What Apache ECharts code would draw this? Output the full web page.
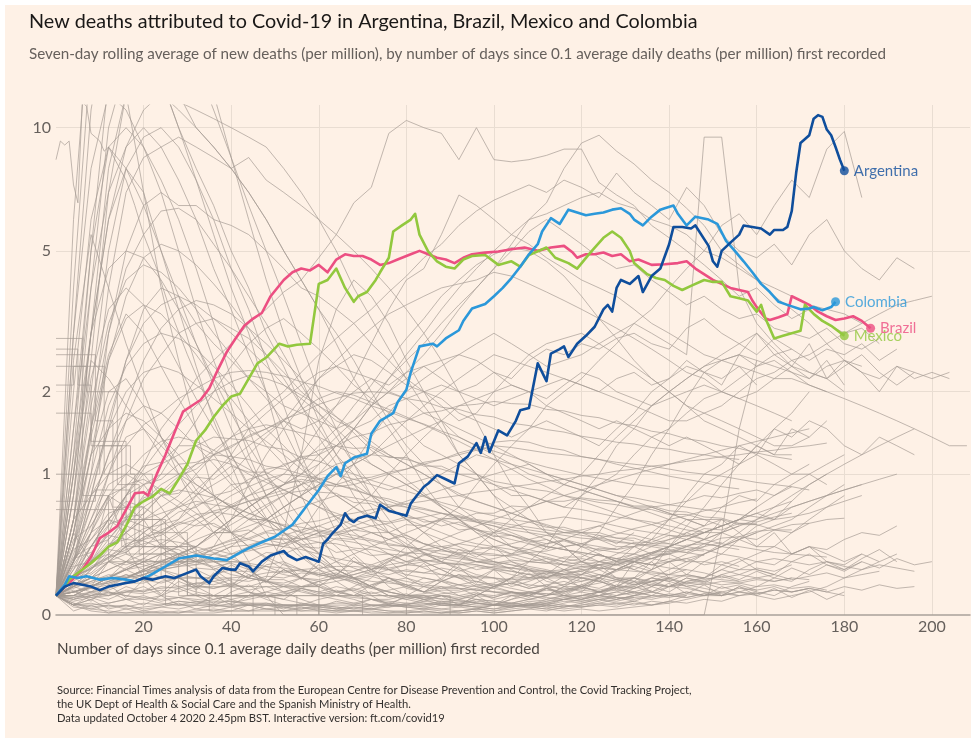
<!DOCTYPE html>
<html><head><meta charset="utf-8">
<script src="https://cdn.jsdelivr.net/npm/echarts@6/dist/echarts.min.js"></script>
<style>
html,body{margin:0;padding:0;background:#fff;width:971px;height:740px;overflow:hidden}
#bg{position:absolute;left:5px;top:5px;width:966px;height:733px;background:#FEF1E6}
#chart{position:absolute;left:0;top:0;width:971px;height:740px}
</style></head>
<body><div id="bg"></div><div id="chart"></div>
<script>
// ---------- DATA ----------
const yTickLabels = [0, 1, 2, 5, 10];
const xTickStep = 20;
const grayStep = 4; // gray country lines sampled every 4 days from day 0

const argentina = [[0,0.1],[2,0.15],[4,0.17],[6,0.16],[8,0.15],[10,0.13],[12,0.15],[14,0.16],[16,0.17],[18,0.18],[20,0.2],[22,0.19],[25,0.21],[27,0.2],[29,0.22],[31,0.24],[32,0.25],[33,0.21],[35,0.17],[36,0.21],[38,0.26],[40,0.25],[41,0.25],[42,0.29],[44,0.27],[45,0.24],[47,0.3],[49,0.34],[52,0.37],[53,0.34],[55,0.31],[57,0.33],[59,0.31],[60,0.3],[61,0.42],[62,0.45],[63,0.49],[65,0.56],[66,0.65],[67,0.6],[68,0.58],[69,0.61],[71,0.63],[72,0.62],[73,0.61],[74,0.72],[76,0.67],[78,0.65],[80,0.63],[81,0.73],[82,0.78],[84,0.88],[85,0.91],[87,0.99],[89,0.95],[91,0.91],[92,1.11],[94,1.18],[96,1.33],[97,1.22],[98,1.4],[99,1.23],[101,1.48],[103,1.42],[105,1.6],[106,1.74],[108,1.77],[110,2.45],[112,2.16],[113,2.62],[115,2.7],[116,2.75],[117,2.56],[119,2.8],[121,2.95],[123,3.13],[125,3.5],[126,3.6],[127,3.45],[128,4.0],[129,4.2],[131,4.1],[133,4.3],[134,3.9],[136,4.3],[138,4.5],[140,5.2],[141,5.75],[143,5.75],[145,5.7],[146,5.8],[149,5.15],[150,4.7],[151,4.55],[152,5.0],[154,5.25],[156,5.5],[157,5.8],[159,5.75],[161,5.7],[163,5.5],[164,5.65],[166,5.65],[167,5.75],[168,6.3],[169,7.8],[170,9.2],[172,9.6],[173,10.5],[174,10.7],[175,10.6],[176,9.9],[177,9.6],[178,9.0],[179,8.4],[180,7.9]];

const brazil = [[0,0.1],[3,0.17],[6,0.25],[8,0.33],[10,0.46],[12,0.5],[14,0.55],[16,0.68],[18,0.82],[20,0.83],[21,0.8],[23,1.0],[25,1.2],[27,1.45],[29,1.72],[31,1.8],[33,1.88],[35,2.05],[37,2.35],[39,2.65],[41,2.9],[43,3.15],[45,3.3],[47,3.42],[49,3.8],[52,4.2],[54,4.4],[56,4.5],[58,4.45],[60,4.6],[62,4.4],[64,4.75],[66,4.9],[68,4.85],[70,4.85],[72,4.75],[74,4.6],[76,4.65],[78,4.75],[81,4.9],[83,5.0],[85,4.9],[87,4.8],[89,4.75],[91,4.65],[93,4.8],[95,4.9],[98,4.95],[101,4.98],[104,5.05],[107,5.1],[110,5.0],[113,5.1],[116,5.15],[118,4.95],[119,4.8],[121,4.9],[123,4.9],[125,4.95],[127,4.85],[129,4.9],[131,4.7],[133,4.75],[136,4.6],[139,4.62],[142,4.65],[144,4.7],[146,4.5],[150,4.2],[152,4.1],[154,4.0],[156,3.95],[158,3.9],[159,3.7],[160,3.55],[162,3.3],[163,3.27],[165,3.33],[167,3.4],[168,3.8],[170,3.7],[172,3.6],[174,3.45],[176,3.35],[178,3.27],[180,3.3],[182,3.35],[184,3.25],[186,3.1]];

const mexico = [[0,0.1],[2,0.15],[3,0.19],[5,0.23],[8,0.29],[10,0.34],[12,0.4],[14,0.43],[16,0.55],[18,0.7],[20,0.75],[22,0.79],[24,0.86],[26,0.82],[28,0.95],[30,1.1],[32,1.36],[34,1.48],[36,1.65],[38,1.8],[40,1.93],[42,1.97],[44,2.2],[46,2.45],[48,2.55],[51,2.8],[53,2.75],[55,2.78],[58,2.8],[59,3.4],[60,4.1],[62,4.2],[64,4.5],[66,4.0],[68,3.67],[69,3.8],[71,3.9],[73,4.2],[74,4.4],[76,4.8],[77,5.6],[79,5.8],[81,6.0],[82,6.2],[83,5.5],[85,4.98],[87,4.7],[89,4.55],[91,4.5],[93,4.75],[95,4.85],[98,4.88],[101,4.6],[104,4.7],[106,4.55],[108,4.88],[112,5.1],[114,4.8],[117,4.65],[119,4.5],[122,4.95],[125,5.4],[127,5.6],[129,5.4],[131,5.0],[132,4.65],[135,4.35],[137,4.25],[139,4.2],[141,4.05],[143,3.95],[145,4.05],[148,4.2],[150,4.15],[152,4.15],[154,3.8],[156,3.75],[158,3.7],[160,3.45],[161,3.6],[162,3.3],[164,2.9],[166,2.95],[168,3.0],[170,3.05],[171,3.6],[173,3.4],[175,3.25],[177,3.15],[180,2.95]];

const colombia = [[0,0.1],[2,0.16],[3,0.21],[5,0.2],[7,0.21],[10,0.19],[13,0.2],[16,0.19],[18,0.18],[21,0.21],[23,0.24],[25,0.27],[28,0.32],[30,0.33],[32,0.34],[34,0.33],[36,0.32],[39,0.31],[42,0.36],[44,0.39],[47,0.43],[50,0.47],[54,0.56],[57,0.7],[60,0.85],[62,0.98],[64,1.07],[65,0.98],[66,1.11],[68,1.17],[71,1.21],[72,1.44],[74,1.6],[77,1.7],[78,1.85],[80,2.03],[81,2.3],[83,2.75],[86,2.8],[87,2.75],[89,2.9],[92,3.06],[93,3.25],[95,3.52],[98,3.62],[100,3.8],[102,4.0],[104,4.25],[106,4.55],[108,4.9],[110,5.2],[111,5.6],[113,6.05],[115,5.85],[117,6.35],[119,6.25],[121,6.15],[123,6.2],[125,6.25],[127,6.35],[129,6.4],[131,6.2],[132,6.0],[134,5.8],[136,6.1],[138,6.35],[139,6.4],[141,6.5],[142,6.2],[144,5.8],[146,6.1],[149,6.0],[151,5.85],[153,5.3],[155,5.0],[157,4.7],[159,4.4],[161,4.1],[163,3.9],[165,3.67],[167,3.6],[170,3.5],[172,3.52],[173,3.55],[175,3.48],[177,3.55],[178,3.67]];

// other countries, sampled every grayStep days
const grayLines = [
[0.1,1.2,5,13,20,24,22,18,14,11,8.5,6.5,5,3.8,2.8,2,1.5,1.1,0.8,0.6,0.45,0.35,0.3,0.25,0.2,0.2,0.15,0.18,0.22,0.3,0.4,0.5,0.7,0.9,1.2,1.5,1.9,2.3,2.1,2.6,3.0,2.7,2.4,2.2,2.5,2.1],
[0.1,0.6,2.5,7,12,14,13.5,12,10,9,8,7,6,5,4.2,3.5,2.8,2.2,1.8,1.5,1.2,0.9,0.7,0.6,0.5,0.4,0.3,0.25,0.2,0.15,0.15,0.12,0.1,0.12,0.15,0.2,0.22,0.3,0.35,0.45,0.55,0.6,0.75,0.9,1.0],
[0.1,3,11,19,20,17,13,10,7.5,5.5,4,3,2,1.2,0.8,0.5,0.3,0.2,0.1,0.05,0.05,0.08,0.1,0.05,0.1,0.15,0.2,0.3,0.4,0.6,0.8,1.0,1.3,1.5,1.8,2.0,2.2,2.4,2.6,2.8,3.0,2.6,2.4,2.8,2.2,2.5,2.3,2.0,2.4,2.2,2.3,2.2],
[0.1,0.8,3,8,12,13,12,11,10,9,8,7,6,5,4.2,3.5,3,2.5,2,1.6,1.3,1.1,0.9,0.7,0.6,0.5,0.4,0.35,0.3,0.25,0.2,0.18,0.15,0.12,0.1,0.1,0.12,0.1,0.15,0.12,0.15,0.2,0.18,0.25,0.3,0.28,0.35],
[0.1,1,4,10,14,15,13,10,8,6.5,5,4,3,2.4,1.8,1.4,1.1,0.8,0.6,0.4,0.35,0.3,0.25,0.2,0.2,0.15,0.2,0.15,0.2,0.25,0.22,0.3,0.35,0.4,0.5,0.6,0.75,0.9,1.0,1.1,1.3,1.2,1.5,1.4,1.6],
[0.1,0.4,1.5,4,7,8.5,9,9.5,9,8.5,8,8.5,7.5,7,6.5,6,5.5,5,4.5,4,3.5,3,2.5,2,1.6,1.2,0.9,0.7,0.5,0.4,0.3,0.25,0.2,0.2,0.15,0.2,0.15,0.12,0.1,0.15,0.12,0.1,0.15,0.18],
[0.1,0.3,1,3,5,6.5,7,6.5,6.5,6,5.8,5.5,5,4.5,4,3.8,3.5,3.2,2.8,2.5,2.2,2,1.8,1.6,1.7,2,2.3,2.6,2.8,2.9,3.0,2.8,2.6,2.4,2.2,2.0,1.8,1.7,1.6,1.5,1.4,1.3,1.3,1.4],
[0.1,1.5,5,9,10,9,7.5,6,4.5,3.2,2.2,1.5,1,0.7,0.5,0.35,0.25,0.2,0.15,0.1,0.08,0.1,0.06,0.05,0.08,0.05,0.1,0.08,0.1,0.12,0.15,0.2,0.3,0.35,0.45,0.6,0.8,1.0,1.1,1.3,1.2,1.5,1.4,1.6,1.5,1.3,1.2,1.4,1.3,1.2],
[0.1,0.6,2,5,8,9.5,10,9,7.5,6,4.5,3.5,2.5,1.8,1.2,0.8,0.5,0.35,0.25,0.15,0.1,0.08,0.05,0.05,0.1,0.05,0.08,0.1,0.15,0.1,0.12,0.2,0.15,0.3,0.25,0.4,0.5,0.45,0.6,0.5,0.4,0.5,0.35,0.4,0.3,0.25,0.3],
[0.1,4,15,30,40,38,32,25,18,12,8.5,6,4.2,3,2.2,1.6,1.2,0.9,0.7,0.5,0.4,0.3,0.25,0.2,0.15,0.12,0.1,0.1,0.08,0.1,0.08,0.1,0.12,0.1,0.15,0.12,0.18,0.2,0.25,0.3,0.35,0.4,0.5,0.6,0.7,0.8],
[0.1,6,20,18,12,7,4,2.5,1.5,0.8,0.5,0.3,0.1,0,0,0,0,0,0,0,0,0,0,0,0,0,0,0,0,0,0,0,0,0,0,0,0,0,0.5,1.5,2.5],
[0.1,0.8,3,6,9,11,12,11.5,11,10.5,10,9.5,9,8,7,6,5,4,3.3,2.7,2.2,1.8,1.5,1.2,1.0,0.8,0.7,0.6,0.5,0.45,0.4,0.35,0.3,0.3,0.28,0.3,0.32,0.35,0.4,0.45,0.5],
[0.1,0.2,0.3,0.5,0.8,1.1,1.5,1.8,2.2,2.5,2.8,3.2,3.5,3.9,4.2,4.8,5.5,6.6,7.2,9.7,10.4,10,9.7,8.4,10,8.4,8.3,8.4,8.6,8.9,8.9,7.4,6.9,6.5,5.8,5.4,5,4.6,4.2,3.8,4,3.6,3.3,3.5,3.2,3.0,3.1,2.8],
[0.1,0.1,0.15,0.2,0.25,0.3,0.35,0.4,0.5,0.6,0.7,0.8,0.9,1.0,1.2,1.5,1.8,2.2,2.8,3.5,4.2,4.5,5.5,6.9,6.5,6,5.5,5.2,4.8,4.5,4.2,4,3.8,3.5,3.2,3,2.8,2.6,2.5,2.4,2.3,2.2,2.2,2.1,2.0],
[0.1,0.1,0.15,0.2,0.2,0.25,0.3,0.35,0.4,0.5,0.5,0.6,0.7,0.8,0.9,1.1,1.3,1.5,1.8,2,2.3,2.6,3,3.5,4,4.5,5.2,6,6.6,8,9.2,9.6,8.8,8.2,7.5,7,6.4,5.8,5,4.6,4.2,3.8,3.5,3.2,2.8,2.5,2.4],
[0.1,0.3,0.8,1.5,2.5,3.5,4,3.8,3.2,2.8,2.5,2.2,2,1.8,1.7,1.6,1.5,1.6,1.8,2,2.2,2.4,2.5,2.6,2.8,3,2.8,2.6,2.4,2.5,2.6,2.8,3,3.2,3,2.8,2.6,9.5,9.5,4,3.2,2.8,2.5,2.3,2.2,2.0],
[0.1,0.3,0.5,0.6,0.5,0.4,0.4,0.35,0.3,0.35,0.4,0.5,0.6,0.7,0.8,1,1.2,1.5,1.8,2.2,2.6,3,3.5,4,4.5,5,5.5,6,6.2,6.5,6.8,7,6.6,6.4,6,5.8,5.5,5,4.8,4.5,4.2,4,3.8,3.6,3.5,3.4,3.2],
[0.1,0.15,0.2,0.3,0.35,0.3,0.25,0.2,0.15,0.1,0.08,0.05,0.05,0.05,0.05,0.08,0.1,0.15,0.2,0.3,0.4,0.5,0.6,0.7,0.9,1.1,1.3,1.5,1.8,2.0,2.2,2.5,2.8,3.2,3.5,4.0,4.5,5,5.8,6.2,5.5,6.5,7.5,6.8,8.9,9.8,6.8],
[0.1,0.5,1.5,3,4.5,5.5,6.3,6.4,6,5.2,4.5,3.8,3.2,2.6,2.1,1.7,1.4,1.1,0.9,0.7,0.6,0.5,0.4,0.35,0.3,0.3,0.25,0.2,0.2,0.25,0.3,0.35,0.3,0.4,0.45,0.5,0.6,0.55,0.7,0.8,0.75,0.9,1.0,1.1],
[0.1,0.4,1.2,2.5,3.8,4.8,5.2,5,4.6,4.1,3.6,3.1,2.6,2.2,1.8,1.5,1.2,1.0,0.8,0.7,0.6,0.5,0.45,0.4,0.35,0.3,0.28,0.25,0.22,0.2,0.2,0.18,0.15,0.15,0.12,0.1,0.12,0.1,0.1,0.12,0.1,0.08,0.1,0.12,0.15,0.2,0.25,0.3,0.35],
[0.1,0.3,0.8,1.6,2.5,3.2,3.6,3.8,3.6,3.3,3,2.7,2.4,2.1,1.9,1.7,1.5,1.3,1.1,1,0.9,0.8,0.7,0.6,0.5,0.45,0.4,0.38,0.35,0.32,0.3,0.28,0.25,0.3,0.28,0.32,0.3,0.35,0.4,0.45,0.5,0.55,0.6,0.7,0.8,0.9],
[0.1,0.2,0.5,1,1.6,2.2,2.6,3,3.2,3.3,3.1,2.9,2.6,2.3,2,1.8,1.6,1.5,1.3,1.2,1.1,1,0.9,0.8,0.75,0.7,0.65,0.6,0.55,0.5,0.5,0.45,0.4,0.4,0.35,0.35,0.3,0.3,0.28,0.25,0.25,0.22],
[0.1,0.5,1.2,1.5,1.7,1.6,1.4,1.2,1.0,0.8,0.7,0.6,0.6,0.7,0.8,0.9,1.0,1.1,1.2,1.4,1.6,1.8,2.0,2.2,2.4,2.6,2.5,2.4,2.3,2.2,2.1,2.0,1.9,1.8,1.7,1.6,1.6,1.7,1.8,2.0,2.2,2.3,2.5,2.6,2.8,3.0,3.2,3.4,3.6,3.7,3.8],
[0.1,0.1,0.12,0.15,0.2,0.25,0.3,0.35,0.4,0.5,0.6,0.7,0.8,0.9,1.1,1.3,1.5,1.8,2.1,2.5,2.9,3.3,3.8,4.2,4.6,4.9,5.1,5,4.7,4.3,3.8,3.3,2.9,2.5,2.2,2,1.8,1.6,1.5,1.4,1.3,1.2,1.2],
[0.1,0.12,0.15,0.2,0.25,0.3,0.35,0.4,0.45,0.5,0.6,0.7,0.8,0.9,1.0,1.1,1.3,1.5,1.6,1.8,1.9,2.0,2.1,2.0,1.9,1.8,1.9,2.0,1.8,1.7,1.6,1.5,1.6,1.5,1.4,1.3,1.4,1.3,1.2,1.1,1.2,1.1,1.0,1.0,0.9],
[0.1,0.1,0.15,0.2,0.3,0.4,0.5,0.6,0.8,1.0,1.2,1.5,1.7,1.9,2.1,2.3,2.4,2.3,2.2,2.0,1.9,1.7,1.6,1.4,1.3,1.2,1.1,1.0,0.95,0.9,0.85,0.8,0.75,0.7,0.7,0.65,0.6,0.6,0.55],
[0.1,0.2,0.3,0.4,0.6,0.8,1.0,1.3,1.6,2.0,2.4,2.8,3.1,3.3,3.0,2.7,2.4,2.1,1.9,1.7,1.5,1.3,1.2,1.1,1.0,0.9,0.8,0.8,0.75,0.7,0.8,0.9,1.0,1.2,1.4,1.5,1.7,1.9,2.0,2.2,2.4,2.6,2.7],
[0.1,0.5,0.3,0.8,0.4,0.2,0.1,0.05,0.05,0.1,0.05,0.1,0.2,0.5,1.2,2.5,3.5,4.2,3.8,3.2,2.5,2.0,1.6,1.2,1.0,0.8,0.6,0.5,0.45,0.4,0.3,0.35,0.3,0.25,0.3,0.2],
[0.1,0.3,0.5,0.8,0.7,0.6,0.4,0.3,0.3,0.4,0.6,0.9,1.2,1.5,1.8,2.2,2.4,2.6,2.5,2.3,2.1,2.0,1.9,1.7,1.6,1.5,1.4,1.5,1.6,1.5,1.4,1.3,1.5,1.7,2.0,2.2,2.5,2.3,2.2,2.4,2.1],
[0.1,0.2,0.4,0.6,0.8,1.0,1.1,1.2,1.3,1.2,1.3,1.4,1.5,1.6,1.5,1.6,1.8,2.0,2.2,2.1,2.3,2.4,2.2,2.0,2.1,2.3,2.2,2.5,2.7,2.6,2.8,2.7,2.9,3.0,2.8,2.7,3.1,3.3,3.0,2.8,2.6,2.9,2.7,2.5,2.7,2.6,2.8,2.5,2.7],
[0.1,0.2,0.4,0.6,0.8,0.9,1.0,1.0,0.9,0.8,0.7,0.65,0.6,0.55,0.5,0.55,0.6,0.7,0.8,1.0,1.2,1.4,1.6,1.8,1.9,2.0,2.1,2.0,2.1,2.2,2.1,2.0,2.2,2.3,2.1,2.2,2.4,2.3,2.5,2.6,2.4,2.5,2.3,2.2,2.4,2.5,2.3,2.2,2.4,2.3],
[0.1,0.2,0.3,0.35,0.3,0.25,0.2,0.15,0.12,0.1,0.15,0.2,0.3,0.4,0.5,0.7,0.9,1.1,1.4,1.7,2.0,2.2,2.4,2.6,2.5,2.3,2.1,2.0,1.9,2.1,2.3,2.2,2.0,1.9,1.8,1.9,2.0,2.1,2.0,1.9,2.0,2.2,2.4,2.3,2.2,2.4,2.6,2.3,2.1,2.3,2.2,2.3],
[0.1,1,3,6,8,7,5,3.5,2.4,1.6,1.1,0.7,0.5,0.3,0.2,0.15,0.1,0.08,0.05,0.05,0.1,0.15,0.2,0.3,0.4,0.5,0.6,0.7,0.8,0.9,1.0,1.2,1.4,1.6,1.8,2.0,2.2,2.4,2.5,2.6,2.5,2.4,2.3,2.1,2.0,1.9,1.8,1.7,1.6,1.5,1.4,1.3,1.3],
[0.1,0.15,0.2,0.3,0.4,0.5,0.6,0.7,0.8,0.9,1.0,1.2,1.4,1.6,1.9,2.2,2.5,2.8,3.1,3.4,3.6,3.8,4.0,4.1,4.2,4.4,4.3,4.1,3.9,3.7,3.5,3.3,3.1,2.9,2.7,2.5,2.3,2.2,2.0,1.9,1.8,1.7,1.6],
[0.1,0.4,0.8,1.0,1.1,1.0,0.8,0.7,0.6,0.5,0.5,0.55,0.6,0.7,0.8,0.9,1.0,1.1,1.2,1.3,1.4,1.5,1.6,1.5,1.4,1.3,1.2,1.1,1.0,0.9,0.85,0.8,0.75,0.7,0.65,0.6,0.55,0.5,0.5,0.45,0.4,0.4,0.35,0.4,0.35,0.3,0.35,0.3],
[0.1,0.2,0.3,0.4,0.5,0.6,0.7,0.8,1.0,1.2,1.4,1.6,1.8,2.0,2.3,2.6,2.9,3.2,3.5,3.9,4.3,4.8,5.2,5.8,6.3,6.7,7.0,7.3,7.0,7.5,7.2,6.8,7.8,7.0,6.5,6.0,7.2,6.5,5.5,5.0,4.8,5.2,4.6,5.5,6.0,5.0,4.5,4.2,4.8,4.5],
[0.1,0.15,0.2,0.2,0.25,0.3,0.3,0.35,0.4,0.5,0.6,0.7,0.8,0.9,1.0,1.2,1.4,1.6,1.9,2.2,2.5,2.8,3.2,3.6,4.0,4.5,5.0,5.6,6.0,5.6,5.2,4.8,4.5,4.6,4.2,3.9,3.6,3.8,3.5,3.3,3.4,3.1,3.0,2.9,3.1,2.8,2.7,2.9],
[0.1,0.15,0.2,0.25,0.3,0.28,0.25,0.22,0.2,0.18,0.15,0.12,0.1,0.08,0.06,0.05,0.04,0.03,0.03,0.02,0.02,0.03,0.02,0.01,0.02,0.01,0.02,0.03,0.05,0.04,0.06,0.08,0.1,0.12,0.1,0.15,0.2,0.18,0.22,0.25,0.3,0.28,0.35,0.4,0.38,0.45,0.5,0.48,0.55],
[0.1,0.08,0.12,0.1,0.15,0.12,0.18,0.2,0.15,0.22,0.25,0.2,0.28,0.3,0.25,0.22,0.2,0.18,0.15,0.2,0.16,0.12,0.15,0.1,0.12,0.08,0.1,0.12,0.1,0.15,0.12,0.1,0.08,0.1,0.12,0.1,0.09,0.11,0.1],
[0.1,0.2,0.35,0.5,0.6,0.55,0.5,0.4,0.35,0.3,0.25,0.2,0.18,0.15,0.12,0.1,0.08,0.06,0.05,0.05,0.04,0.05,0.06,0.05,0.04,0.03,0.05,0.04,0.03,0.02,0.03,0.02,0.03,0.04,0.05,0.07,0.1],
[0.1,0.12,0.1,0.14,0.18,0.22,0.26,0.3,0.34,0.38,0.42,0.45,0.5,0.48,0.52,0.55,0.5,0.48,0.45,0.42,0.4,0.38,0.35,0.33,0.3,0.28,0.3,0.27,0.25,0.22,0.24,0.2,0.18,0.2,0.17,0.15,0.16,0.14,0.12,0.14,0.13],
[0.1,0.05,0.08,0.03,0.05,0.02,0.04,0.06,0.03,0.05,0.08,0.1,0.12,0.15,0.2,0.25,0.3,0.35,0.4,0.45,0.5,0.55,0.6,0.62,0.58,0.55,0.5,0.45,0.4,0.38,0.35,0.3,0.28,0.25,0.22,0.2],
[0.1,0.3,0.6,0.9,1.0,0.9,0.7,0.5,0.35,0.25,0.18,0.12,0.08,0.05,0.04,0.03,0.02,0.02,0.01,0.01,0.02,0.01,0.01,0.02,0.03,0.02,0.04,0.05,0.08,0.1,0.15,0.2,0.25,0.3,0.35,0.4,0.45,0.5,0.55,0.6,0.65,0.6,0.7,0.75,0.8,0.85,0.9,0.95,1.0],
[0.1,0.15,0.12,0.18,0.22,0.18,0.25,0.3,0.28,0.35,0.32,0.38,0.42,0.4,0.45,0.5,0.48,0.52,0.5,0.45,0.48,0.42,0.4,0.38,0.36,0.35,0.33,0.3,0.32,0.28,0.3,0.26,0.25,0.27,0.24,0.22,0.25,0.23,0.2,0.22,0.2,0.18,0.2,0.19],
[0.1,0.06,0.04,0.05,0.03,0.04,0.05,0.07,0.06,0.08,0.1,0.09,0.12,0.1,0.14,0.12,0.15,0.13,0.16,0.18,0.15,0.2,0.18,0.22,0.2,0.25,0.22,0.2,0.24,0.2,0.18,0.22,0.19,0.17,0.2,0.18,0.15,0.17,0.14,0.16,0.13,0.15,0.12,0.14,0.12,0.1],
[0.1,0.25,0.5,0.75,0.9,0.95,0.85,0.75,0.65,0.55,0.5,0.45,0.42,0.4,0.38,0.35,0.32,0.3,0.28,0.25,0.22,0.2,0.18,0.16,0.15,0.14,0.12,0.1,0.09,0.08,0.07,0.08,0.06,0.07,0.05,0.06],
[0.1,0.12,0.15,0.18,0.2,0.24,0.28,0.3,0.35,0.4,0.45,0.5,0.58,0.65,0.7,0.75,0.8,0.78,0.75,0.72,0.7,0.68,0.65,0.6,0.58,0.55,0.52,0.5,0.48,0.45,0.42,0.4,0.38,0.4,0.42,0.45,0.48,0.5,0.55,0.6,0.58,0.62,0.65],
[0.1,0.05,0.02,0.01,0.01,0.02,0.01,0.01,0.02,0.03,0.02,0.05,0.03,0.02,0.04,0.02,0.01,0.02,0.03,0.02,0.01,0.02,0.01,0.02,0.03,0.05,0.08,0.12,0.1,0.15,0.2,0.18,0.25,0.3],
[0.1,0.2,0.15,0.3,0.25,0.2,0.35,0.3,0.25,0.2,0.28,0.22,0.18,0.25,0.2,0.15,0.22,0.18,0.14,0.2,0.16,0.12,0.18,0.14,0.1,0.15,0.12,0.09,0.14,0.1,0.08,0.12,0.09,0.07,0.1],
[0.1,0.15,0.25,0.4,0.55,0.7,0.8,0.85,0.82,0.78,0.72,0.65,0.6,0.55,0.5,0.48,0.45,0.43,0.4,0.38,0.36,0.35,0.33,0.32,0.3,0.32,0.35,0.38,0.42,0.45,0.5,0.55,0.6,0.65,0.7,0.72,0.75,0.8,0.78,0.82,0.85,0.8,0.88],
[0.1,0.08,0.1,0.12,0.1,0.08,0.06,0.05,0.07,0.05,0.04,0.06,0.05,0.04,0.03,0.05,0.04,0.03,0.05,0.04,0.06,0.05,0.07,0.06,0.08,0.07,0.06,0.08,0.07,0.09,0.08,0.1,0.09,0.08,0.1,0.09,0.11,0.1,0.12,0.1,0.11,0.13,0.12,0.14,0.12,0.15,0.13,0.16,0.14,0.15],
[0.1,0.18,0.26,0.32,0.38,0.42,0.45,0.43,0.4,0.36,0.32,0.28,0.25,0.22,0.2,0.18,0.2,0.22,0.25,0.28,0.3,0.34,0.38,0.42,0.46,0.5,0.54,0.58,0.6,0.62,0.6,0.58,0.55,0.52,0.5,0.48,0.45,0.42,0.4,0.38],
[0.1,0.05,0.1,0.08,0.12,0.15,0.1,0.18,0.14,0.2,0.16,0.22,0.18,0.25,0.2,0.28,0.22,0.3,0.25,0.32,0.28,0.35,0.3,0.38,0.33,0.4,0.35,0.42,0.38,0.45,0.4,0.48,0.42,0.5],
[0.1,0.35,0.7,1.2,1.6,1.8,1.7,1.5,1.3,1.1,0.9,0.75,0.6,0.5,0.4,0.32,0.25,0.2,0.15,0.12,0.1,0.08,0.07,0.06,0.05,0.05,0.04,0.05,0.04,0.03,0.04,0.05,0.04,0.06,0.05,0.07,0.06,0.08,0.07,0.1,0.12],
[0.1,0.12,0.14,0.16,0.2,0.24,0.28,0.34,0.4,0.48,0.56,0.64,0.72,0.8,0.9,1.0,1.1,1.15,1.2,1.18,1.15,1.1,1.05,1.0,0.95,0.9,0.85,0.8,0.75,0.7,0.68,0.65,0.62,0.6,0.58,0.55,0.52,0.5],
[0.1,0.1,0.09,0.1,0.12,0.11,0.13,0.12,0.15,0.14,0.16,0.15,0.18,0.17,0.2,0.19,0.22,0.2,0.24,0.22,0.25,0.23,0.26,0.24,0.27,0.25,0.24,0.22,0.23,0.21,0.2,0.22,0.19,0.2,0.18,0.19,0.17,0.18,0.16,0.17,0.15,0.16,0.14,0.15,0.13],
[0.1,0.22,0.4,0.6,0.75,0.7,0.6,0.48,0.38,0.3,0.25,0.2,0.18,0.15,0.14,0.12,0.1,0.09,0.08,0.07,0.06,0.06,0.05,0.05,0.04,0.05,0.06,0.08,0.1,0.13,0.16,0.2,0.24,0.28,0.32,0.36,0.4,0.45,0.5,0.55,0.6,0.65,0.7,0.75,0.8,0.85,0.9],
[0.1,0.06,0.03,0.02,0.01,0.01,0.01,0.02,0.01,0.01,0.02,0.02,0.03,0.02,0.03,0.04,0.03,0.05,0.04,0.06,0.05,0.07,0.06,0.08,0.1,0.09,0.12,0.1,0.14,0.12,0.16,0.14,0.18,0.16,0.2,0.18,0.22,0.2,0.25,0.22,0.26,0.24,0.28],
[0.1,0.2,0.3,0.45,0.6,0.75,0.9,1.0,1.1,1.15,1.1,1.0,0.92,0.85,0.78,0.7,0.65,0.6,0.55,0.5,0.46,0.42,0.38,0.35,0.32,0.3,0.28,0.26,0.24,0.22,0.2],
[0.1,0.14,0.18,0.22,0.2,0.25,0.3,0.28,0.33,0.38,0.35,0.4,0.45,0.42,0.48,0.52,0.5,0.55,0.6,0.58,0.62,0.6,0.55,0.58,0.52,0.5,0.48,0.45,0.42,0.44,0.4,0.38,0.36,0.35,0.32,0.3,0.32,0.28,0.3,0.27],
[0.1,0.05,0.06,0.04,0.05,0.03,0.04,0.03,0.05,0.04,0.06,0.08,0.1,0.12,0.15,0.18,0.2,0.24,0.28,0.32,0.35,0.38,0.4,0.42,0.4,0.38,0.35,0.32,0.3,0.28,0.25,0.22,0.2,0.18,0.16,0.15,0.14,0.12,0.11,0.1],
[0.1,0.28,0.45,0.6,0.55,0.5,0.42,0.35,0.3,0.26,0.22,0.2,0.18,0.16,0.15,0.16,0.18,0.2,0.22,0.25,0.28,0.3,0.32,0.35,0.38,0.4,0.42,0.45,0.48,0.5,0.52,0.55,0.5,0.48,0.45,0.42,0.4,0.38,0.35,0.33,0.3,0.32,0.3,0.28,0.3,0.27,0.25,0.28,0.26,0.24],
[0.1,0.16,0.2,0.25,0.3,0.35,0.42,0.5,0.6,0.7,0.8,0.88,0.95,1.0,0.98,0.95,0.9,0.85,0.8,0.75,0.7,0.65,0.6,0.56,0.52,0.48,0.45,0.42,0.4,0.38,0.36,0.34,0.32,0.3],
[0.1,0.05,0.08,0.12,0.08,0.05,0.1,0.14,0.1,0.06,0.12,0.16,0.1,0.08,0.14,0.18,0.12,0.1,0.16,0.2,0.14,0.12,0.18,0.22,0.16,0.14,0.2,0.25,0.18,0.16,0.22,0.28,0.2,0.18,0.25,0.3,0.22,0.2,0.28,0.32,0.25,0.22,0.3,0.35,0.28,0.25,0.32,0.38,0.3],
[0.1,0.3,0.55,0.8,1.0,1.2,1.35,1.4,1.35,1.25,1.15,1.05,0.95,0.85,0.78,0.7,0.62,0.55,0.5,0.45,0.4,0.36,0.32,0.3,0.28,0.26,0.24,0.22,0.2,0.2,0.22,0.25,0.28,0.32,0.36,0.4,0.45,0.5,0.55,0.6,0.65,0.7,0.75],
[0.1,0.12,0.15,0.17,0.2,0.22,0.25,0.27,0.3,0.32,0.35,0.37,0.4,0.42,0.45,0.47,0.5,0.52,0.55,0.57,0.6,0.62,0.65,0.63,0.6,0.58,0.56,0.54,0.52,0.5,0.48,0.46,0.44,0.42,0.4,0.38,0.36,0.34],
[0.1,0.02,0.05,0.01,0.03,0.01,0.02,0.01,0.03,0.02,0.04,0.02,0.05,0.03,0.06,0.04,0.07,0.05,0.08,0.06,0.09,0.07,0.1,0.08,0.11,0.09,0.12,0.1,0.14,0.11,0.15,0.12,0.16,0.14,0.18,0.15,0.2,0.17,0.22,0.19,0.24,0.2,0.26,0.22,0.28,0.24,0.3,0.26,0.32,0.28,0.3],
[0.1,1.2,3,4.5,5,4.8,4.2,3.5,2.8,2.2,1.7,1.3,1.0,0.8,0.6,0.5,0.4,0.3,0.25,0.2,0.15,0.12,0.1,0.08,0.06,0.05,0.06,0.05,0.07,0.08,0.1,0.12,0.15,0.2,0.25,0.3,0.35,0.4,0.5,0.6,0.7],
[0.1,0.8,2.2,3.5,4,3.6,3,2.4,1.9,1.5,1.2,0.9,0.7,0.5,0.4,0.3,0.25,0.2,0.15,0.12,0.1,0.1,0.08,0.07,0.06,0.05,0.05,0.04,0.05,0.04,0.05,0.06,0.05,0.07],
[0.1,2,6,9,8,6.5,5,3.8,2.8,2.1,1.5,1.1,0.8,0.6,0.45,0.35,0.25,0.2,0.15,0.1,0.08,0.06,0.05,0.05,0.04,0.03,0.04,0.05,0.04,0.06,0.08,0.1,0.15,0.2,0.3,0.4,0.55,0.7,0.9,1.1,1.3,1.5,1.7,2.0],
[0.1,1.5,4,7,9,10,9,7.5,6,4.5,3.5,2.6,2,1.5,1.1,0.8,0.6,0.45,0.35,0.25,0.2,0.15,0.12,0.1,0.08,0.07,0.06,0.05,0.06,0.05,0.04,0.05,0.06,0.05,0.07,0.06,0.08,0.1,0.12],
[0.1,0.6,1.8,3.2,4.2,4.6,4.4,4,3.5,3,2.6,2.2,1.9,1.6,1.4,1.2,1.0,0.9,0.8,0.7,0.6,0.55,0.5,0.45,0.42,0.4,0.38,0.35,0.33,0.3,0.32,0.3,0.28,0.3,0.32,0.35,0.4,0.45,0.5,0.55],
[0.1,3,8,12,11,9,7,5,3.5,2.5,1.8,1.2,0.8,0.5,0.35,0.25,0.18,0.12,0.08,0.05,0.04,0.03,0.03,0.02,0.03,0.02,0.03,0.04,0.03,0.05,0.04,0.06,0.08,0.1,0.12,0.15,0.18,0.2],
[0.1,0.5,1.4,2.5,3.3,3.6,3.4,3.0,2.6,2.2,1.9,1.6,1.3,1.1,0.9,0.75,0.62,0.5,0.42,0.35,0.3,0.26,0.22,0.2,0.18,0.16,0.14,0.12,0.11,0.1,0.09,0.1,0.12,0.15,0.2,0.25,0.3],
[0.1,2.5,5.5,4,2.8,2,1.4,1,0.7,0.5,0.35,0.25,0.18,0.12,0.08,0.05,0.03,0.02,0.02,0.01,0.01,0.02,0.01,0.01,0.02,0.01,0.02,0.03,0.02,0.04,0.05,0.07,0.1,0.14,0.18,0.22,0.28,0.35,0.42,0.5,0.6,0.7,0.8,0.9,1.0,1.1,1.2,1.3,1.4,1.5],
[0.1,1,2.5,2.2,1.8,1.5,1.2,1,0.8,0.65,0.5,0.4,0.32,0.25,0.2,0.16,0.12,0.1,0.08,0.06,0.05,0.04,0.03,0.04,0.03,0.05,0.04,0.06,0.05,0.08,0.1,0.12,0.15],
[0.1,0.4,1.0,1.8,2.4,2.8,3.0,2.9,2.7,2.4,2.1,1.8,1.5,1.3,1.1,0.95,0.8,0.7,0.6,0.5,0.42,0.36,0.3,0.26,0.22,0.2,0.18,0.16,0.15,0.14,0.13,0.12,0.13,0.12],
[0.1,0.3,0.6,1.0,1.4,1.5,1.3,1.1,0.9,0.8,0.7,0.6,0.55,0.5,0.45,0.5,0.55,0.6,0.65,0.7,0.75,0.8,0.85,0.9,0.95,1.0,1.05,1.1,1.0,0.95,0.9,0.85,0.8,0.78,0.75,0.72,0.7,0.68,0.66,0.64,0.62,0.6,0.62,0.65,0.7,0.75,0.8],
[0.1,0.2,0.3,0.4,0.5,0.6,0.65,0.7,0.75,0.72,0.7,0.75,0.8,0.85,0.9,0.95,1.0,0.95,0.9,0.85,0.9,0.95,1.0,1.1,1.2,1.15,1.1,1.05,1.0,0.95,0.9,0.85,0.8,0.75,0.7,0.65,0.6,0.55],
[0.1,0.5,1.2,2.0,2.2,1.8,1.4,1.1,0.85,0.65,0.5,0.4,0.33,0.28,0.25,0.22,0.2,0.22,0.25,0.3,0.35,0.4,0.45,0.5,0.55,0.6,0.65,0.7,0.75,0.8,0.85,0.9,0.95,1.0,1.05,1.1,1.15,1.2,1.25,1.3,1.35,1.4,1.45,1.5],
[0.1,0.15,0.25,0.35,0.5,0.65,0.8,0.95,1.1,1.25,1.4,1.5,1.55,1.5,1.45,1.4,1.3,1.2,1.1,1.0,0.9,0.8,0.72,0.65,0.58,0.52,0.48,0.44,0.4,0.38,0.36,0.34,0.32,0.3,0.28,0.26,0.25],
[0.1,0.12,0.15,0.2,0.26,0.32,0.4,0.48,0.56,0.64,0.72,0.8,0.85,0.9,0.95,0.92,0.88,0.9,0.95,1.0,1.05,1.1,1.15,1.2,1.25,1.3,1.28,1.25,1.22,1.2,1.18,1.15,1.12,1.1,1.08,1.05,1.02,1.0,0.98,0.95,0.92,0.9,0.88,0.85],
[0.1,0.4,0.9,1.5,2.0,2.3,2.4,2.3,2.1,1.9,1.7,1.5,1.35,1.2,1.05,0.92,0.8,0.7,0.62,0.55,0.48,0.42,0.38,0.34,0.3,0.28,0.26,0.25,0.24,0.25,0.26,0.28,0.3,0.33,0.36,0.4,0.45],
[0.1,0.2,0.35,0.55,0.8,1.05,1.3,1.55,1.8,2.0,2.15,2.25,2.2,2.1,1.95,1.8,1.65,1.5,1.35,1.2,1.1,1.0,0.9,0.82,0.75,0.7,0.65,0.6,0.56,0.52,0.5,0.48,0.46,0.44],
[0.1,0.3,0.7,1.2,1.8,2.5,3.1,3.5,3.7,3.6,3.4,3.1,2.8,2.5,2.2,1.9,1.65,1.45,1.25,1.1,0.95,0.82,0.7,0.6,0.52,0.45,0.4,0.36,0.32,0.3,0.28,0.3,0.32,0.35,0.4,0.45,0.5,0.55,0.6],
[0.1,0.15,0.22,0.3,0.4,0.5,0.6,0.72,0.85,1.0,1.15,1.3,1.45,1.6,1.75,1.9,2.0,1.95,1.85,1.75,1.65,1.55,1.45,1.35,1.25,1.15,1.05,0.95,0.88,0.8,0.75,0.7,0.65,0.6,0.56,0.52,0.48,0.45,0.42,0.4,0.38,0.36,0.35,0.34,0.33],
[0.1,0.6,1.5,2.6,3.4,3.0,2.4,1.9,1.5,1.2,0.95,0.75,0.6,0.5,0.42,0.36,0.3,0.26,0.22,0.2,0.18,0.16,0.15,0.14,0.13,0.12,0.11,0.12,0.14,0.16,0.18,0.2,0.25,0.3,0.35,0.4,0.45,0.5,0.55,0.6,0.7,0.8,0.9,1.0,1.1,1.2],
[0.1,0.22,0.25,0.38,0.36,0.47,0.5,0.58,0.55,0.57,0.5,0.52,0.45,0.46,0.41,0.43,0.36,0.38,0.34,0.35,0.3,0.31,0.29,0.29,0.25,0.27,0.26,0.3,0.29,0.33,0.33,0.39,0.38,0.43,0.43,0.48,0.47,0.53,0.52,0.57,0.56],
[0.1,0.25,0.4,0.45,0.62,0.64,0.8,0.82,0.97,0.95,1.08,1.02,1.02,0.92,0.93,0.83,0.82,0.74,0.73,0.66,0.64,0.58,0.59,0.52,0.53,0.47,0.48,0.43,0.45,0.4,0.42,0.37,0.39],
[0.1,0.09,0.12,0.13,0.17,0.17,0.21,0.2,0.26,0.25,0.3,0.3,0.36,0.35,0.4,0.39,0.46,0.45,0.5,0.5,0.56,0.55,0.61,0.6,0.65,0.65,0.71,0.7,0.75,0.75,0.78,0.76,0.75,0.71,0.71,0.67,0.66,0.62,0.61,0.57,0.57],
[0.1,0.32,0.36,0.48,0.45,0.44,0.39,0.38,0.31,0.31,0.24,0.24,0.19,0.19,0.15,0.15,0.12,0.13,0.1,0.1,0.09,0.09,0.11,0.12,0.14,0.16,0.17,0.2,0.2,0.23,0.24,0.28,0.28,0.32,0.32,0.37,0.36,0.42,0.4,0.47,0.45,0.52,0.5,0.57],
[0.1,0.2,0.27,0.33,0.42,0.46,0.56,0.6,0.72,0.76,0.9,0.92,1.05,1.08,1.18,1.2,1.3,1.27,1.28,1.17,1.17,1.08,1.08,1.0,1.0,0.93,0.9,0.86,0.84,0.8,0.77,0.74,0.72,0.69,0.68,0.64,0.64,0.6,0.6,0.56,0.56,0.52,0.52],
[0.1,0.05,0.05,0.06,0.08,0.08,0.1,0.09,0.08,0.07,0.07,0.06,0.06,0.05,0.05,0.05,0.06,0.06,0.08,0.08,0.1,0.11,0.13,0.13,0.16,0.17,0.2,0.2,0.23,0.24,0.27,0.28,0.31,0.32,0.36,0.37,0.41,0.42,0.46,0.47,0.51,0.52,0.56,0.57,0.6,0.61],
[0.1,0.45,0.55,0.8,0.88,1.08,1.12,1.3,1.3,1.4,1.38,1.36,1.29,1.26,1.17,1.13,1.06,1.0,0.94,0.89,0.84,0.79,0.74,0.7,0.66,0.63,0.6,0.58,0.54,0.54,0.5,0.5,0.46,0.46,0.42,0.42],
[0.1,0.13,0.07,0.16,0.09,0.19,0.11,0.21,0.13,0.23,0.15,0.26,0.17,0.29,0.19,0.31,0.21,0.33,0.23,0.31,0.21,0.29,0.19,0.27,0.17,0.25,0.16,0.23,0.15,0.21,0.14,0.19,0.13,0.18,0.12,0.17,0.11,0.16,0.1,0.15,0.1,0.14,0.09,0.13,0.08,0.12],
[0.1,0.2,0.23,0.33,0.36,0.45,0.48,0.56,0.6,0.67,0.7,0.75,0.78,0.82,0.84,0.88,0.9,0.95,0.97,1.02,1.05,1.12,1.15,1.22,1.27,1.34,1.36,1.34,1.28,1.25,1.18,1.15,1.1,1.06,1.02,0.98,0.95,0.92,0.88,0.86],
[0.1,0.12,0.16,0.17,0.2,0.22,0.27,0.28,0.34,0.35,0.4,0.41,0.45,0.45,0.46,0.43,0.42,0.39,0.38,0.35,0.34,0.31,0.3,0.28,0.28,0.26,0.26,0.24,0.24,0.22,0.22,0.2],
[0.1,0.27,0.3,0.42,0.45,0.53,0.56,0.66,0.7,0.8,0.84,0.95,1.0,1.1,1.15,1.25,1.3,1.4,1.45,1.55,1.6,1.7,1.73,1.8,1.82,1.86,1.83,1.82,1.75,1.73,1.67,1.64,1.57,1.54,1.47,1.44,1.38,1.35,1.3,1.27,1.22,1.18,1.15],
[0.1,0.08,0.1,0.11,0.12,0.13,0.14,0.15,0.17,0.18,0.2,0.21,0.23,0.24,0.25,0.26,0.27,0.27,0.26,0.25,0.24,0.23,0.22,0.21,0.21,0.2,0.19,0.19,0.21,0.22,0.25,0.26,0.29,0.31,0.34,0.35,0.38,0.4,0.43],
[0.1,0.38,0.45,0.65,0.7,0.9,0.95,1.1,1.12,1.2,1.18,1.15,1.08,1.05,1.0,0.96,0.9,0.86,0.8,0.77,0.72,0.69,0.65,0.62,0.59,0.57,0.54,0.52,0.5,0.48,0.46,0.45,0.43,0.42,0.41,0.4,0.38,0.37],
[0.1,0.15,0.18,0.21,0.25,0.27,0.31,0.33,0.37,0.4,0.44,0.46,0.51,0.53,0.57,0.59,0.63,0.65,0.68,0.7,0.73,0.75,0.78,0.8,0.83,0.85,0.88,0.9,0.93,0.95,0.98,1.0,1.03,1.05,1.08,1.1,1.13,1.15,1.18,1.2,1.23,1.25,1.28,1.3,1.33],
[0.1,0.33,0.4,0.56,0.62,0.78,0.83,0.98,1.05,1.2,1.28,1.42,1.5,1.62,1.7,1.82,1.9,1.98,2.0,1.98,1.9,1.86,1.78,1.75,1.68,1.65,1.57,1.54,1.49,1.46,1.41,1.38,1.34,1.32,1.28,1.26,1.22,1.2,1.17,1.15],
[0.1,0.16,0.17,0.2,0.21,0.24,0.25,0.27,0.28,0.3,0.3,0.29,0.27,0.26,0.24,0.23,0.21,0.2,0.18,0.17,0.16,0.15,0.14,0.14,0.13,0.12,0.12,0.11,0.11,0.1,0.1,0.1,0.09,0.09],
[0.1,0.2,0.26,0.33,0.4,0.45,0.52,0.57,0.64,0.66,0.64,0.61,0.59,0.56,0.54,0.51,0.49,0.46,0.44,0.41,0.4,0.38,0.37,0.36,0.35,0.34,0.34,0.36,0.37,0.4,0.42,0.46,0.49,0.53,0.56,0.6,0.63,0.67,0.7,0.74,0.77],
[0.1,0.6,0.8,1.1,1.3,1.55,1.7,1.9,2.05,2.2,2.3,2.33,2.3,2.24,2.15,2.08,1.98,1.9,1.8,1.72,1.63,1.56,1.47,1.4,1.3,1.24,1.18,1.12,1.07,1.03,0.99,0.96,0.93,0.9,0.88,0.86],
[0.1,0.07,0.09,0.06,0.08,0.1,0.07,0.09,0.11,0.08,0.1,0.12,0.09,0.11,0.13,0.1,0.12,0.14,0.11,0.13,0.15,0.12,0.14,0.16,0.13,0.15,0.17,0.14,0.16,0.18,0.15,0.17,0.19,0.16,0.18,0.2,0.17,0.19,0.21,0.18,0.2,0.22,0.19,0.21,0.23,0.2,0.22,0.24],
[0.1,0.12,0.14,0.12,0.1,0.09,0.08,0.09,0.07,0.06,0.07,0.05,0.06,0.04,0.05,0.04,0.03,0.04,0.03,0.04,0.05,0.04,0.06,0.05,0.07,0.06,0.05,0.07,0.06,0.08,0.07,0.09,0.08,0.1,0.09,0.11,0.1],
[0.1,0.16,0.2,0.18,0.22,0.19,0.17,0.2,0.16,0.14,0.17,0.13,0.15,0.12,0.14,0.11,0.13,0.1,0.12,0.09,0.11,0.08,0.1,0.09,0.11,0.1,0.12,0.11,0.13,0.12,0.14,0.13,0.15,0.14,0.16,0.15,0.17,0.16,0.18,0.17,0.19,0.18,0.2],
[0.1,0.04,0.03,0.05,0.04,0.06,0.05,0.07,0.06,0.05,0.04,0.05,0.03,0.04,0.02,0.03,0.02,0.04,0.03,0.05,0.04,0.03,0.05,0.04,0.06,0.05,0.04,0.06,0.05,0.07,0.06,0.08,0.07,0.09,0.08,0.1,0.09,0.11,0.1,0.12,0.11,0.13,0.12,0.14],
[0.1,0.2,0.26,0.3,0.28,0.32,0.29,0.33,0.3,0.27,0.29,0.25,0.27,0.23,0.25,0.21,0.23,0.19,0.21,0.18,0.2,0.17,0.19,0.16,0.18,0.15,0.17,0.14,0.16,0.13,0.15,0.12,0.14,0.11,0.13],
[0.1,0.09,0.11,0.1,0.13,0.12,0.15,0.14,0.17,0.16,0.19,0.18,0.21,0.2,0.23,0.22,0.25,0.24,0.27,0.26,0.28,0.27,0.29,0.28,0.3,0.29,0.31,0.3,0.29,0.28,0.27,0.26,0.25,0.24,0.23,0.22,0.21,0.2,0.19,0.18]
];

// small countries: stepped series, [day, value] at each change
const stepLines = [
[[0,2.9],[6,0.8],[12,0.3],[25,0.05],[60,0]],
[[0,2.7],[5,2.1],[8,1.3],[15,0.4],[30,0.1],[50,0]],
[[0,2.6],[9,1.6],[13,0.7],[20,0.2],[35,0.02],[70,0]],
[[0,2.4],[7,2.0],[14,0.9],[19,0.35],[28,0.1],[45,0]],
[[0,1.7],[8,1.35],[16,0.6],[24,0.2],[40,0.05],[80,0]],
[[0,1.0],[10,1.3],[17,1.0],[22,0.5],[30,0.15],[60,0]],
[[0,0.75],[9,0.85],[17,0.6],[25,0.3],[40,0.1],[90,0]],
[[0,2.1],[4,2.4],[11,1.0],[18,0.4],[32,0.1],[70,0.02]],
[[0,0.68],[13,0.68],[16,0.35],[30,0.1],[55,0]]
];

// a small country recorded from a high first value (daily)
const earlyHigh = [[0,8.4],[1,9.3],[2,9.1],[3,9.3],[4,7.3],[5,6.6],[6,11.5],[7,11.2],[8,9.7],[9,9.5],[10,9.3],[11,8.8],[12,9.0],[14,8.2],[16,7.5],[18,6.5],[20,5.5],[23,4.5],[26,3.5],[30,2.6],[35,1.8],[40,1.2],[45,0.8],[50,0.5],[55,0.35],[60,0.25],[70,0.15],[80,0.1],[90,0.08],[100,0.05],[110,0.05],[120,0.1],[130,0.15],[140,0.2]];

// ---------- CHART ----------
const T = v => Math.log10(1 + v);          // axis scale: log(1 + deaths per million)
const yTicks = yTickLabels.map(T);
const GRAY = 'rgba(164,154,146,0.68)';
const FONT = 'Lato, "Noto Sans", sans-serif';
const COLORS = {Argentina:'#0F4E9C', Brazil:'#EC4F82', Mexico:'#92C83E', Colombia:'#2B98DA'};

const series = [];
grayLines.forEach(arr => series.push({
  type:'line', silent:true, symbol:'none', z:2,
  lineStyle:{color:GRAY, width:1},
  data: arr.map((v,i) => [i*grayStep, T(v)])
}));
stepLines.forEach(arr => series.push({
  type:'line', silent:true, symbol:'none', step:'end', z:2,
  lineStyle:{color:GRAY, width:1},
  data: arr.map(p => [p[0], T(p[1])])
}));
series.push({type:'line', silent:true, symbol:'none', z:2, lineStyle:{color:GRAY, width:1},
  data: earlyHigh.map(p => [p[0], T(p[1])])});

const highlights = [['Brazil',brazil],['Mexico',mexico],['Colombia',colombia],['Argentina',argentina]];
highlights.forEach(([name, arr], k) => series.push({
  type:'line', name, silent:true, symbol:'none', z:10+k,
  lineStyle:{color:COLORS[name], width:2.6, join:'round'},
  data: arr.map(p => [p[0], T(p[1])])
}));
series.push({
  type:'scatter', silent:true, z:20, symbolSize:9,
  data: highlights.map(([name, arr]) => {
    const last = arr[arr.length-1];
    return {value:[last[0], T(last[1])], name,
      itemStyle:{color:COLORS[name]},
      label:{show:true, position:'right', distance:5, formatter:name, color:COLORS[name],
             fontSize:15, fontFamily:FONT}};
  })
});

const chart = echarts.init(document.getElementById('chart'), null, {renderer:'canvas'});
chart.setOption({
  animation:false,
  backgroundColor:'transparent',
  grid:{left:56, right:1, top:105, bottom:125},
  xAxis:{type:'value', min:0, max:208.7, interval:xTickStep,
    axisLine:{show:true, onZero:false, lineStyle:{color:'#A9A19A', width:1.5}},
    axisTick:{show:false},
    axisLabel:{color:'#66605C', fontSize:16, fontFamily:FONT, margin:4, showMaxLabel:false,
      formatter: v => v === 0 ? '' : String(v)},
    splitLine:{show:true, showMinLine:false, showMaxLine:false, lineStyle:{color:'#E9DDD2', width:1}}
  },
  yAxis:{type:'value', min:0, max:T(11.3),
    axisLine:{show:false},
    axisTick:{show:false, customValues:yTicks},
    axisLabel:{customValues:yTicks, color:'#66605C', fontSize:16, fontFamily:FONT, margin:5,
      formatter: v => String(Math.round(Math.pow(10, v) - 1))},
    splitLine:{show:true, showMinLine:false, lineStyle:{color:'#E9DDD2', width:1}}
  },
  graphic:[
    {type:'text', left:29, top:12, style:{text:'New deaths attributed to Covid-19 in Argentina, Brazil, Mexico and Colombia',
      fill:'#1A1817', font:'19.8px '+FONT}},
    {type:'text', left:29, top:47, style:{text:'Seven-day rolling average of new deaths (per million), by number of days since 0.1 average daily deaths (per million) first recorded',
      fill:'#66605C', font:'15.2px '+FONT}},
    {type:'text', left:57, top:642, style:{text:'Number of days since 0.1 average daily deaths (per million) first recorded',
      fill:'#4A4541', font:'15.2px '+FONT}},
    {type:'text', left:57, top:683, style:{text:'Source: Financial Times analysis of data from the European Centre for Disease Prevention and Control, the Covid Tracking Project,\nthe UK Dept of Health & Social Care and the Spanish Ministry of Health.\nData updated October 4 2020 2.45pm BST. Interactive version: ft.com/covid19',
      fill:'#33302E', font:'11.2px '+FONT, lineHeight:14}}
  ],
  series
});
</script>
</body></html>
